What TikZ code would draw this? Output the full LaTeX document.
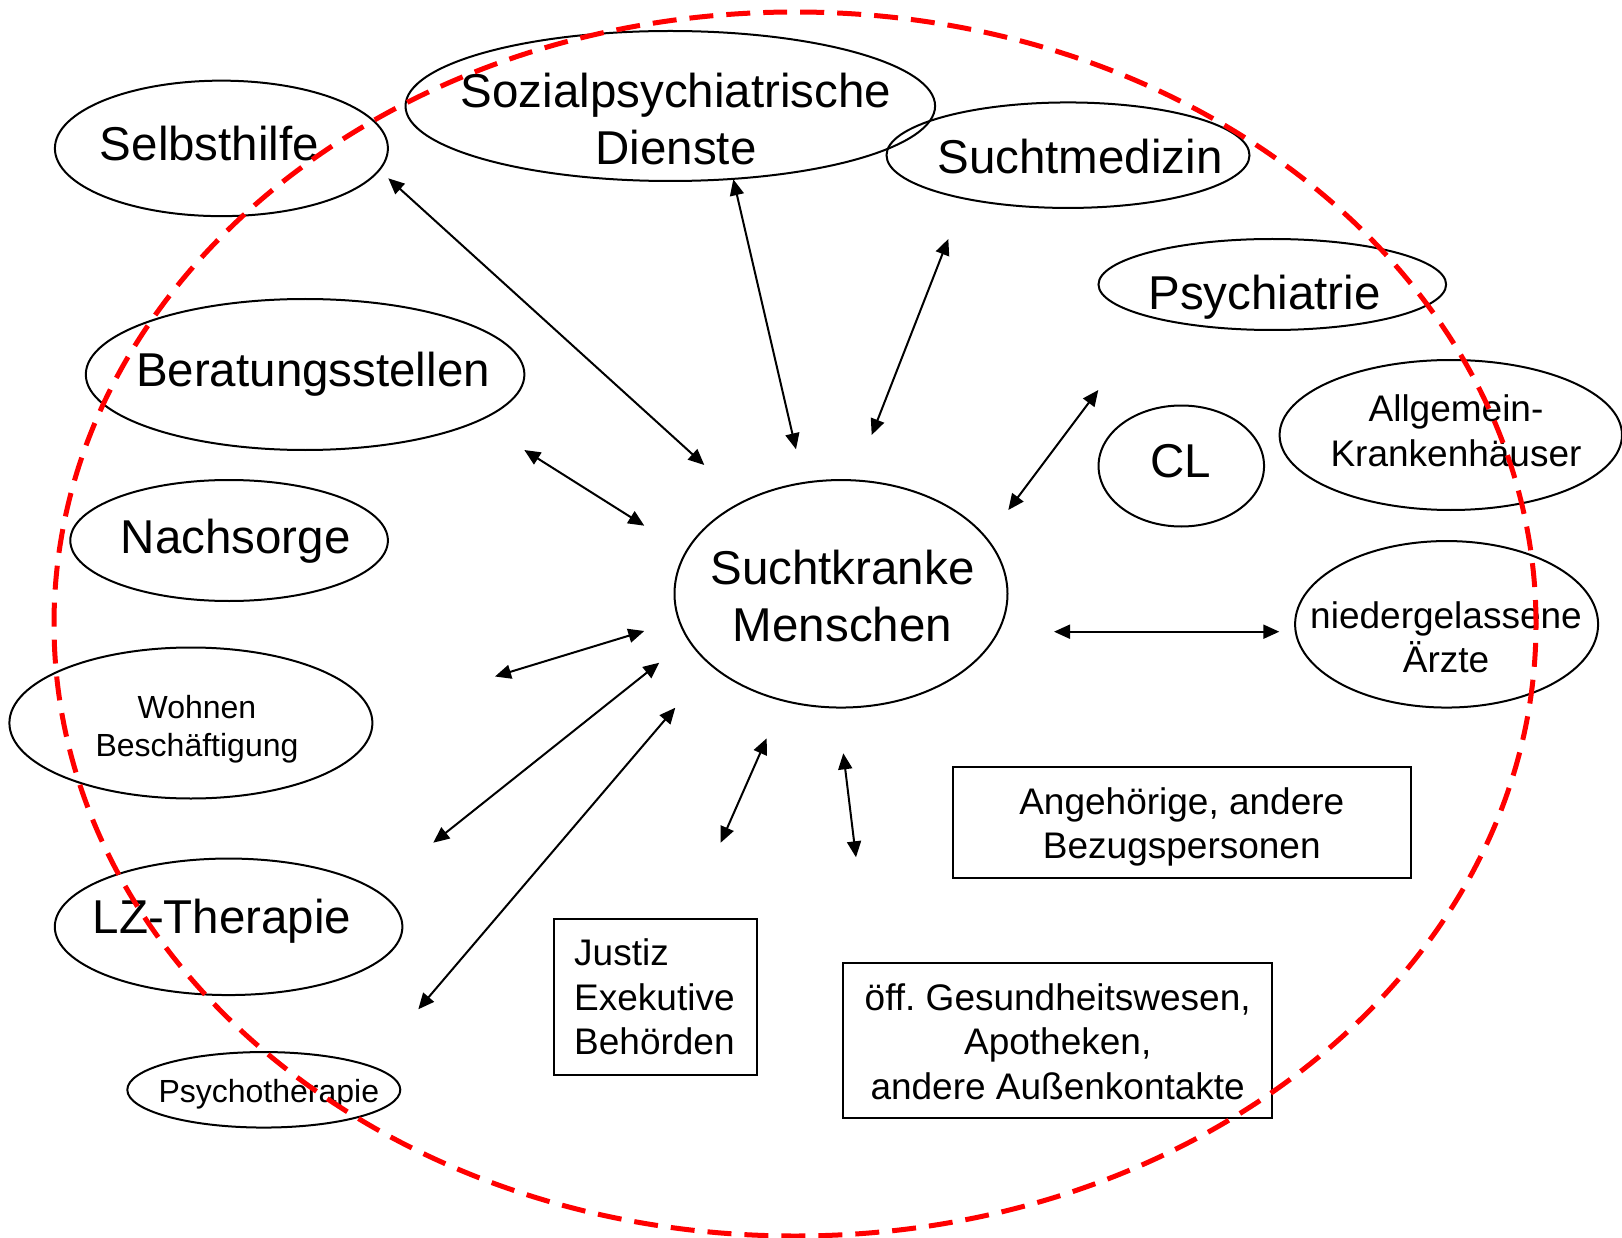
\documentclass[tikz,border=0pt]{standalone}
\usepackage{fontspec}
\setmainfont{Liberation Sans}
\usetikzlibrary{shapes.geometric,arrows.meta}
\frenchspacing
\begin{document}
\begin{tikzpicture}[x=1pt,y=-1pt,
  oval/.style={draw=black,line width=2pt,ellipse,inner sep=0pt,outer sep=0pt},
  framebox/.style={draw=black,line width=2pt,rectangle,inner sep=0pt,outer sep=0pt,anchor=north west},
  lblbig/.style={font=\fontsize{47.5}{57}\selectfont,inner sep=0pt,anchor=base,align=center},
  lblmid/.style={font=\fontsize{37}{44.4}\selectfont,inner sep=0pt,anchor=base,align=center},
  lblsmall/.style={font=\fontsize{32}{38.4}\selectfont,inner sep=0pt,anchor=base,align=center},
  link/.style={line width=2pt,{Triangle[length=16pt,width=14pt]}-{Triangle[length=16pt,width=14pt]}},
  boundary/.style={draw=red,line width=5pt,dash pattern=on 24pt off 13pt}
]
\useasboundingbox (0,0) rectangle (1622,1238);

% ---- services (ellipses) ----
\node[oval,minimum width=333pt,minimum height=135.5pt] (selbst) at (221.4,148.4) {};
\node[oval,minimum width=529.6pt,minimum height=150pt] (sozial) at (670.3,106) {};
\node[oval,minimum width=363pt,minimum height=105.5pt] (suchtmed) at (1068,155.2) {};
\node[oval,minimum width=347.6pt,minimum height=91pt] (psych) at (1272.3,284.5) {};
\node[oval,minimum width=438.6pt,minimum height=151pt] (berat) at (305.1,374.5) {};
\node[oval,minimum width=342.4pt,minimum height=150pt] (allg) at (1450.8,435) {};
\node[oval,minimum width=165.5pt,minimum height=121pt] (cl) at (1181.3,466) {};
\node[oval,minimum width=317.6pt,minimum height=121pt] (nach) at (229.1,540.5) {};
\node[oval,minimum width=333pt,minimum height=227.5pt] (kranke) at (841,593.8) {};
\node[oval,minimum width=303pt,minimum height=166.5pt] (aerzte) at (1446.6,624.3) {};
\node[oval,minimum width=363pt,minimum height=151pt] (wohnen) at (190.9,723) {};
\node[oval,minimum width=347.6pt,minimum height=136.5pt] (lz) at (228.6,926.8) {};
\node[oval,minimum width=273pt,minimum height=75.5pt] (ptherapie) at (263.8,1089.8) {};

% ---- further contacts (boxes) ----
\node[framebox,minimum width=458.3pt,minimum height=111.7pt] (angeh) at (952.7,766.5) {};
\node[framebox,minimum width=202.8pt,minimum height=156.3pt] (justiz) at (554.4,918.5) {};
\node[framebox,minimum width=429.3pt,minimum height=155.2pt] (oeff) at (843,963) {};

% ---- labels (multi-line labels sit on the baseline of their last line) ----
\node[lblbig] (tselbst) at (209.5,161) {Selbsthilfe};
\node[lblbig] (tsozial) at (676,165) {Sozialpsychiatrische\\Dienste};
\node[lblbig] (tsuchtmed) at (1080,174) {Suchtmedizin};
\node[lblbig] (tpsych) at (1264.5,310) {Psychiatrie};
\node[lblbig] (tberat) at (313,386) {Beratungsstellen};
\node[lblbig] (tcl) at (1180.8,477) {CL};
\node[lblbig] (tnach) at (235.8,553) {Nachsorge};
\node[lblbig] (tkranke) at (842.5,641) {Suchtkranke\\Menschen};
\node[lblbig] (tlz) at (222,933) {LZ-Therapie};
\node[lblmid] (tallg) at (1456,466) {Allgemein-\\Krankenhäuser};
\node[lblmid] (taerzte) at (1446,672.5) {niedergelassene\\Ärzte};
\node[lblsmall] (twohnen) at (197,756.5) {Wohnen\\Beschäftigung};
\node[lblsmall] (tptherapie) at (268.8,1102) {Psychotherapie};
\node[lblmid] (tangeh) at (1181.8,858.4) {Angehörige, andere\\Bezugspersonen};
\node[lblmid,anchor=base west,align=left] (tjustiz) at (574,1054.5) {Justiz\\Exekutive\\Behörden};
\node[lblmid] (toeff) at (1057.7,1099) {öff.\ Gesundheitswesen,\\Apotheken,\\andere Außenkontakte};

% ---- arrow end points ----
\coordinate (a1) at (388.3,178.3);  \coordinate (b1) at (704.3,465);
\coordinate (a2) at (733.3,179.3);  \coordinate (b2) at (796,449.3);
\coordinate (a3) at (948.3,239);    \coordinate (b3) at (871.7,435);
\coordinate (a4) at (1098.3,390);   \coordinate (b4) at (1008.3,510);
\coordinate (a5) at (524.3,450);    \coordinate (b5) at (644.3,525.7);
\coordinate (a6) at (1054,631.7);   \coordinate (b6) at (1279.3,631.7);
\coordinate (a7) at (495,676.5);    \coordinate (b7) at (644.3,631);
\coordinate (a8) at (433.3,842.7);  \coordinate (b8) at (659.3,662.7);
\coordinate (a9) at (418.3,1009.3); \coordinate (b9) at (675.3,707.7);
\coordinate (a10) at (766.7,738.3); \coordinate (b10) at (720.7,842.7);
\coordinate (a11) at (843.3,753.3); \coordinate (b11) at (856,857.3);

% ---- two-way links ----
\foreach \i in {1,...,11} {\draw[link] (a\i) -- (b\i);}

% ---- dashed boundary of the care network ----
\draw[boundary] (795,624) ellipse [x radius=741pt, y radius=612pt];
\end{tikzpicture}
\end{document}
